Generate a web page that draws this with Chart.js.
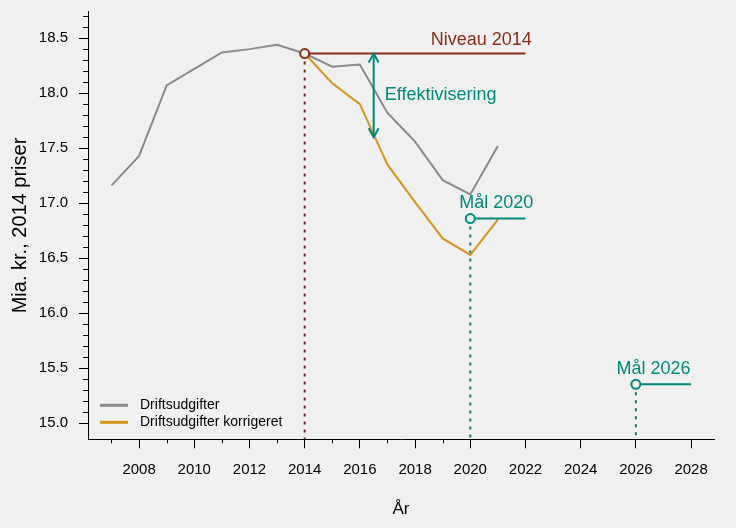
<!DOCTYPE html>
<html>
<head>
<meta charset="utf-8">
<script src="https://cdn.jsdelivr.net/npm/chart.js@4.4.0/dist/chart.umd.min.js"></script>
<style>
  html, body { margin: 0; padding: 0; background: #f0f0f0; }
</style>
</head>
<body>
<canvas id="myChart" width="736" height="528"></canvas>
<script>
// data
let years = [2007, 2008, 2009, 2010, 2011, 2012, 2013, 2014, 2015, 2016, 2017, 2018, 2019, 2020, 2021];
let driftsudgifter = [17.16, 17.43, 18.07, 18.22, 18.37, 18.40, 18.44, 18.36, 18.24, 18.26, 17.82, 17.56, 17.21, 17.08, 17.52];
let korrYears = [2014, 2015, 2016, 2017, 2018, 2019, 2020, 2021];
let korrigeret = [18.36, 18.09, 17.90, 17.35, 17.01, 16.68, 16.53, 16.85];

let niveauYears = [2014, 2022];
let niveau2014 = 18.36;
let maal2020Years = [2020, 2022];
let maal2020 = 16.86;
let maal2026Years = [2026, 2028];
let maal2026 = 15.355;
let arrowYear = 2016.5;
let arrowEnds = [18.36, 17.6];

let xMin = 2006.15, xMax = 2028.83;
let yMin = 14.855, yMax = 18.74;

const GRAY = '#8a8a8a';
const ORANGE = '#d4951c';
const DARKRED = '#8b2c18';
const TEAL = '#00897b';
const FONT = '"Liberation Sans", Arial, sans-serif';

function pts(xs, ys) {
  return xs.map((x, i) => ({ x: x, y: Array.isArray(ys) ? ys[i] : ys }));
}

// text notes, in data units
let notes = [
  { text: 'Niveau 2014', x: 2020.4, y: 18.44, color: DARKRED, align: 'center' },
  { text: 'Effektivisering', x: 2016.9, y: 17.94, color: TEAL, align: 'left' },
  { text: 'Mål 2020', x: 2020.94, y: 16.955, color: TEAL, align: 'center' },
  { text: 'Mål 2026', x: 2026.64, y: 15.445, color: TEAL, align: 'center' }
];

const extras = {
  id: 'extras',
  afterDatasetsDraw(chart) {
    const ctx = chart.ctx;
    const xs = chart.scales.x, ys = chart.scales.y;
    ctx.save();

    // arrow heads
    ctx.strokeStyle = TEAL;
    ctx.lineWidth = 2;
    const ax = xs.getPixelForValue(arrowYear);
    const top = ys.getPixelForValue(arrowEnds[0]);
    const bot = ys.getPixelForValue(arrowEnds[1]);
    ctx.beginPath();
    ctx.moveTo(ax - 5, top + 9); ctx.lineTo(ax, top); ctx.lineTo(ax + 5, top + 9);
    ctx.moveTo(ax - 5, bot - 9); ctx.lineTo(ax, bot); ctx.lineTo(ax + 5, bot - 9);
    ctx.stroke();

    // notes
    ctx.font = '18px ' + FONT;
    ctx.textBaseline = 'alphabetic';
    notes.forEach(n => {
      ctx.fillStyle = n.color;
      ctx.textAlign = n.align;
      ctx.fillText(n.text, xs.getPixelForValue(n.x), ys.getPixelForValue(n.y));
    });

    // legend
    const area = chart.chartArea;
    ctx.font = '14px ' + FONT;
    ctx.textAlign = 'left';
    ctx.textBaseline = 'middle';
    [0, 1].forEach((k, i) => {
      const ds = chart.data.datasets[k];
      const ly = area.bottom - 34 + i * 17;
      ctx.strokeStyle = ds.borderColor;
      ctx.lineWidth = 3;
      ctx.beginPath();
      ctx.moveTo(area.left + 12, ly);
      ctx.lineTo(area.left + 40, ly);
      ctx.stroke();
      ctx.fillStyle = '#000';
      ctx.fillText(ds.label, area.left + 52, ly);
    });
    ctx.restore();
  },
  afterDraw(chart) {
    // minor ticks
    const ctx = chart.ctx;
    const xs = chart.scales.x, ys = chart.scales.y;
    const area = chart.chartArea;
    ctx.save();
    ctx.strokeStyle = '#000';
    ctx.lineWidth = 1;
    ctx.beginPath();
    for (let yr = 2007; yr <= 2019; yr += 2) {
      const px = Math.round(xs.getPixelForValue(yr)) + 0.5;
      ctx.moveTo(px, area.bottom);
      ctx.lineTo(px, area.bottom + 4);
    }
    for (let k = 151; k <= 187; k++) {
      if (k % 5 === 0) continue;
      const py = Math.round(ys.getPixelForValue(k / 10)) + 0.5;
      ctx.moveTo(area.left, py);
      ctx.lineTo(area.left - 5, py);
    }
    ctx.stroke();
    ctx.restore();
  }
};

const ctx = document.getElementById('myChart').getContext('2d');
const chart = new Chart(ctx, {
  type: 'line',
  data: {
    datasets: [
      {
        label: 'Driftsudgifter',
        data: pts(years, driftsudgifter),
        borderColor: GRAY, borderWidth: 2, pointRadius: 0, order: 5
      },
      {
        label: 'Driftsudgifter korrigeret',
        data: pts(korrYears, korrigeret),
        borderColor: ORANGE, borderWidth: 2, pointRadius: 0, order: 4
      },
      {
        data: pts([niveauYears[0], niveauYears[0]], [niveau2014, yMin]),
        borderColor: '#6e2a22', borderWidth: 2, borderDash: [3, 5], pointRadius: 0, order: 6
      },
      {
        data: pts([maal2020Years[0], maal2020Years[0]], [maal2020, yMin]),
        borderColor: '#137a6c', borderWidth: 2, borderDash: [3, 5], pointRadius: 0, order: 6
      },
      {
        data: pts([maal2026Years[0], maal2026Years[0]], [maal2026, yMin]),
        borderColor: '#137a6c', borderWidth: 2, borderDash: [3, 5], pointRadius: 0, order: 6
      },
      {
        data: pts(niveauYears, niveau2014),
        borderColor: DARKRED, borderWidth: 2, pointRadius: 0, order: 3
      },
      {
        data: pts(maal2020Years, maal2020),
        borderColor: TEAL, borderWidth: 2, pointRadius: 0, order: 3
      },
      {
        data: pts(maal2026Years, maal2026),
        borderColor: TEAL, borderWidth: 2, pointRadius: 0, order: 3
      },
      {
        data: pts([arrowYear, arrowYear], arrowEnds),
        borderColor: TEAL, borderWidth: 2, pointRadius: 0, order: 3
      },
      {
        data: pts([niveauYears[0]], [niveau2014]),
        showLine: false, pointRadius: 4.5, pointBorderWidth: 2,
        pointBorderColor: DARKRED, pointBackgroundColor: '#f0f0f0', order: 1
      },
      {
        data: pts([maal2020Years[0], maal2026Years[0]], [maal2020, maal2026]),
        showLine: false, pointRadius: 4.5, pointBorderWidth: 2,
        pointBorderColor: TEAL, pointBackgroundColor: '#f0f0f0', order: 1
      }
    ]
  },
  options: {
    responsive: false,
    animation: false,
    devicePixelRatio: 1,
    layout: { padding: { left: 0, top: 11.7, right: 22, bottom: 0 } },
    plugins: { legend: { display: false }, tooltip: { enabled: false } },
    scales: {
      x: {
        type: 'linear',
        min: xMin, max: xMax,
        afterFit(scale) { scale.height = 88.7; scale.paddingLeft = 0; scale.paddingRight = 0; },
        border: { color: '#000', width: 1 },
        grid: { drawOnChartArea: false, tickLength: 9, color: '#000' },
        ticks: {
          stepSize: 2, includeBounds: false, padding: 13, color: '#000', maxRotation: 0,
          font: { family: FONT, size: 15 },
          callback: v => String(v)
        },
        title: {
          display: true, text: 'År', color: '#000',
          font: { family: FONT, size: 17 }, padding: { top: 0, bottom: 8 }
        }
      },
      y: {
        min: yMin, max: yMax,
        afterFit(scale) { scale.width = 88; scale.paddingTop = 0; scale.paddingBottom = 0; },
        border: { color: '#000', width: 1 },
        grid: { drawOnChartArea: false, tickLength: 9, color: '#000' },
        ticks: {
          stepSize: 0.5, includeBounds: false, padding: 11, color: '#000',
          font: { family: FONT, size: 15 },
          callback: v => v.toFixed(1)
        },
        title: {
          display: true, text: 'Mia. kr., 2014 priser', color: '#000',
          font: { family: FONT, size: 20 }, padding: { top: 8.5, bottom: 0 }
        }
      }
    }
  },
  plugins: [extras]
});
</script>
</body>
</html>
